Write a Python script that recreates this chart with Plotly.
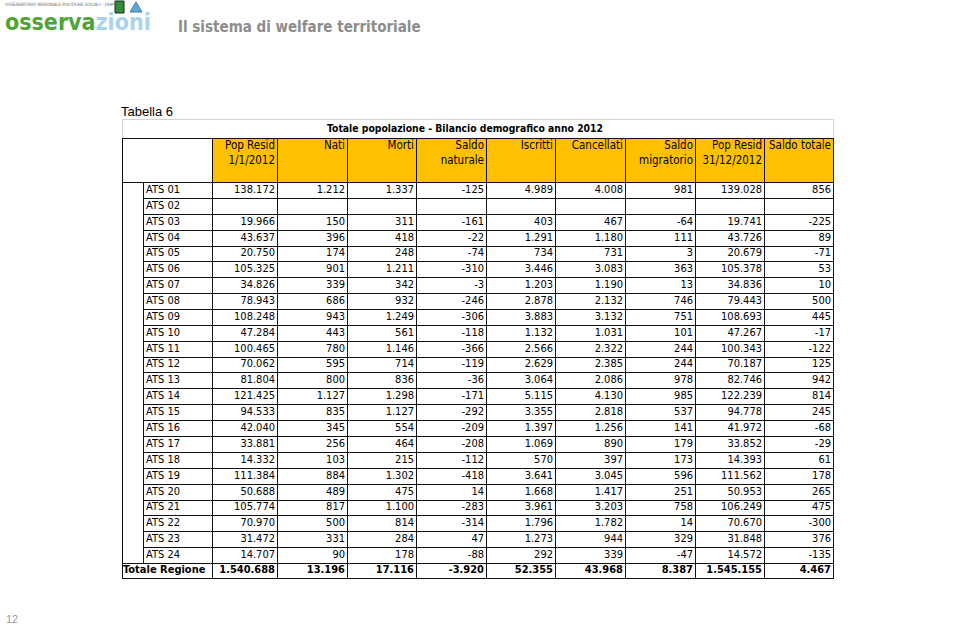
import plotly.graph_objects as go

# --- data -----------------------------------------------------------------
ats = ["ATS %02d" % i for i in range(1, 25)]

pop_1_1 = [138172, None, 19966, 43637, 20750, 105325, 34826, 78943, 108248, 47284, 100465, 70062,
           81804, 121425, 94533, 42040, 33881, 14332, 111384, 50688, 105774, 70970, 31472, 14707]
nati = [1212, None, 150, 396, 174, 901, 339, 686, 943, 443, 780, 595,
        800, 1127, 835, 345, 256, 103, 884, 489, 817, 500, 331, 90]
morti = [1337, None, 311, 418, 248, 1211, 342, 932, 1249, 561, 1146, 714,
         836, 1298, 1127, 554, 464, 215, 1302, 475, 1100, 814, 284, 178]
saldo_naturale = [-125, None, -161, -22, -74, -310, -3, -246, -306, -118, -366, -119,
                  -36, -171, -292, -209, -208, -112, -418, 14, -283, -314, 47, -88]
iscritti = [4989, None, 403, 1291, 734, 3446, 1203, 2878, 3883, 1132, 2566, 2629,
            3064, 5115, 3355, 1397, 1069, 570, 3641, 1668, 3961, 1796, 1273, 292]
cancellati = [4008, None, 467, 1180, 731, 3083, 1190, 2132, 3132, 1031, 2322, 2385,
              2086, 4130, 2818, 1256, 890, 397, 3045, 1417, 3203, 1782, 944, 339]
saldo_migratorio = [981, None, -64, 111, 3, 363, 13, 746, 751, 101, 244, 244,
                    978, 985, 537, 141, 179, 173, 596, 251, 758, 14, 329, -47]
pop_31_12 = [139028, None, 19741, 43726, 20679, 105378, 34836, 79443, 108693, 47267, 100343, 70187,
             82746, 122239, 94778, 41972, 33852, 14393, 111562, 50953, 106249, 70670, 31848, 14572]
saldo_totale = [856, None, -225, 89, -71, 53, 10, 500, 445, -17, -122, 125,
                942, 814, 245, -68, -29, 61, 178, 265, 475, -300, 376, -135]

totale_regione = [1540688, 13196, 17116, -3920, 52355, 43968, 8387, 1545155, 4467]

header_line1 = ["Pop Resid", "Nati", "Morti", "Saldo", "Iscritti", "Cancellati", "Saldo", "Pop Resid", "Saldo totale"]
header_line2 = ["1/1/2012", "", "", "naturale", "", "", "migratorio", "31/12/2012", ""]

table_title = "Totale popolazione - Bilancio demografico anno 2012"
columns = [pop_1_1, nati, morti, saldo_naturale, iscritti, cancellati,
           saldo_migratorio, pop_31_12, saldo_totale]

# --- layout constants -----------------------------------------------------
W, H = 960, 627
col_edges = [122, 143, 212, 277, 347, 416, 486, 555, 625, 695, 764, 833]
title_top, head_top, head_bot = 119, 138, 182
row_h = 15.875
tot_bot = 578
FONT = "DejaVu Sans Condensed, DejaVu Sans, sans-serif"
LINE = "#111111"


def fmt(v):
    if v is None:
        return ""
    return "{:,}".format(v).replace(",", ".")


def row_y(i):
    return round(head_bot + i * row_h)


n = len(ats)
tot_top = row_y(n)
centers = [(row_y(i) + row_y(i + 1)) / 2 for i in range(n)]

fig = go.Figure()

# cell texts
fig.add_trace(go.Scatter(x=[col_edges[1] + 3] * n, y=centers, text=ats, mode="text",
                         textposition="middle right",
                         textfont=dict(family=FONT, size=11, color="#000")))
for j, col in enumerate(columns):
    xr = col_edges[j + 3] - 2
    fig.add_trace(go.Scatter(x=[xr] * n, y=centers, text=[fmt(v) for v in col], mode="text",
                             textposition="middle left",
                             textfont=dict(family=FONT, size=11, color="#000")))
    fig.add_trace(go.Scatter(x=[xr, xr], y=[146, 161], text=[header_line1[j], header_line2[j]],
                             mode="text", textposition="middle left",
                             textfont=dict(family=FONT, size=11.5, color="#000")))

# totale row
tot_c = (tot_top + tot_bot) / 2
fig.add_trace(go.Scatter(x=[col_edges[0] + 1], y=[tot_c], text=["<b>Totale Regione</b>"], mode="text",
                         textposition="middle right",
                         textfont=dict(family=FONT, size=11, color="#000")))
fig.add_trace(go.Scatter(x=[e - 2 for e in col_edges[3:]], y=[tot_c] * len(totale_regione),
                         text=["<b>%s</b>" % fmt(v) for v in totale_regione], mode="text",
                         textposition="middle left",
                         textfont=dict(family=FONT, size=11, color="#000")))

# title of the table
fig.add_trace(go.Scatter(x=[465], y=[(title_top + head_top) / 2 + 0.5], text=["<b>%s</b>" % table_title],
                         mode="text", textposition="middle center",
                         textfont=dict(family=FONT, size=10.3, color="#000")))

# --- grid -----------------------------------------------------------------
shapes = []
L, R = col_edges[0] + 0.5, col_edges[-1] + 0.5


def hline(y, x0, x1, color=LINE):
    shapes.append(dict(type="line", x0=x0, x1=x1, y0=y + 0.5, y1=y + 0.5,
                       line=dict(color=color, width=1)))


def vline(x, y0, y1, color=LINE):
    shapes.append(dict(type="line", x0=x + 0.5, x1=x + 0.5, y0=y0, y1=y1,
                       line=dict(color=color, width=1)))


# title box (light)
shapes.append(dict(type="rect", x0=L, x1=R, y0=title_top + 0.5, y1=head_top + 0.5,
                   line=dict(color="#d4d4d4", width=1), fillcolor="white", layer="below"))
# orange header
shapes.append(dict(type="rect", x0=col_edges[2], x1=col_edges[-1], y0=head_top, y1=head_bot,
                   line=dict(width=0), fillcolor="#FFC000", layer="below"))

hline(head_top, L, R)
hline(head_bot, L, R)
for i in range(1, n):
    hline(row_y(i), col_edges[1] + 0.5, R)
hline(tot_top, L, R)
hline(tot_bot, L, R)

vline(col_edges[0], head_top, tot_bot + 1)
vline(col_edges[1], head_bot, tot_top + 1)
for e in col_edges[2:]:
    vline(e, head_top, tot_bot + 1)

# --- page decorations -------------------------------------------------------
annotations = [
    dict(x=119, y=111, text="Tabella 6", showarrow=False, xanchor="left", yanchor="middle",
         font=dict(family="Liberation Sans, Arial", size=13, color="#000")),
    dict(x=176, y=27, text="<b>Il sistema di welfare territoriale</b>", showarrow=False,
         xanchor="left", yanchor="middle",
         font=dict(family=FONT, size=15, color="#8c8c8c")),
    dict(x=3, y=22, text="<b><span style='color:#4fa436'>osserva</span>"
                         "<span style='color:#a9d3ee'>zioni</span></b>",
         showarrow=False, xanchor="left", yanchor="middle",
         font=dict(family=FONT, size=23)),
    dict(x=3, y=4, text="OSSERVATORIO REGIONALE POLITICHE SOCIALI - DHPS", showarrow=False,
         xanchor="left", yanchor="middle", font=dict(family=FONT, size=4.5, color="#666")),
    dict(x=4, y=619, text="12", showarrow=False, xanchor="left", yanchor="middle",
         font=dict(family="Liberation Sans, Arial", size=11, color="#999")),
]

# small emblems next to the logo
shapes.append(dict(type="rect", x0=115, x1=124, y0=1, y1=13, fillcolor="#2e8b3a",
                   line=dict(color="#222", width=1)))
shapes.append(dict(type="path", path="M 130 12 L 136 2 L 142 12 Z", fillcolor="#5fa8d8",
                   line=dict(color="#3a7fb0", width=1)))

fig.update_layout(
    width=W, height=H,
    margin=dict(l=0, r=0, t=0, b=0),
    paper_bgcolor="white", plot_bgcolor="white",
    showlegend=False,
    xaxis=dict(range=[0, W], visible=False, fixedrange=True),
    yaxis=dict(range=[H, 0], visible=False, fixedrange=True),
    shapes=shapes,
    annotations=annotations,
)

fig.write_html("out.html", config={"displayModeBar": False},
               post_script="document.body.style.margin='0px';")
